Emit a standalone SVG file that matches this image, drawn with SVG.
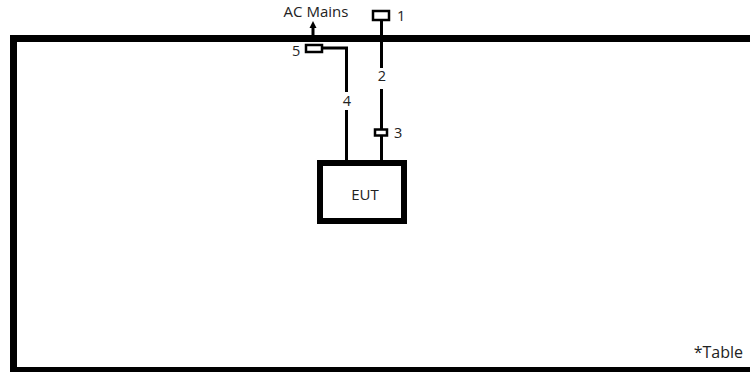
<svg xmlns="http://www.w3.org/2000/svg" width="750" height="372" viewBox="0 0 750 372">
<style>
.lbl{font-family:"Open Sans","Liberation Sans",sans-serif;font-size:14.5px;fill:#222}
.ln{stroke:#000;stroke-width:3;fill:none}
.bx{stroke:#000;stroke-width:2.5;fill:#fff}
</style>
<rect width="750" height="372" fill="#fff"/>
<g id="table">
<path d="M13.5 372 V38.5 H760" fill="none" stroke="#000" stroke-width="7"/>
<line x1="10" y1="370" x2="760" y2="370" stroke="#000" stroke-width="6"/>
<text class="lbl" x="743" y="358" text-anchor="end" style="font-size:16px">*Table</text>
</g>
<g id="connectors">
<line class="ln" x1="381.5" y1="20" x2="381.5" y2="68"/>
<line class="ln" x1="381.5" y1="89" x2="381.5" y2="160"/>
<polyline class="ln" points="323,48 346.5,48 346.5,92"/>
<line class="ln" x1="346.5" y1="110" x2="346.5" y2="160"/>
<line class="ln" x1="313" y1="35" x2="313" y2="27"/>
<polygon points="313,21 309.5,28 316.5,28" fill="#000"/>
</g>
<g id="ac-mains"><text class="lbl" x="316" y="17" text-anchor="middle" style="font-size:15px">AC Mains</text></g>
<g id="n1"><rect class="bx" x="373" y="11" width="16" height="9"/><text class="lbl" x="397" y="21">1</text></g>
<g id="n2"><text class="lbl" x="382" y="81" text-anchor="middle">2</text></g>
<g id="n3"><rect class="bx" x="375" y="129.5" width="12" height="6"/><text class="lbl" x="394" y="138">3</text></g>
<g id="n4"><text class="lbl" x="347" y="106" text-anchor="middle">4</text></g>
<g id="n5"><rect class="bx" x="306" y="45" width="16" height="7"/><text class="lbl" x="292" y="56">5</text></g>
<g id="eut"><rect x="320" y="163" width="84" height="58" fill="#fff" stroke="#000" stroke-width="6"/><text class="lbl" x="365" y="200" text-anchor="middle" style="font-size:15px">EUT</text></g>
</svg>
